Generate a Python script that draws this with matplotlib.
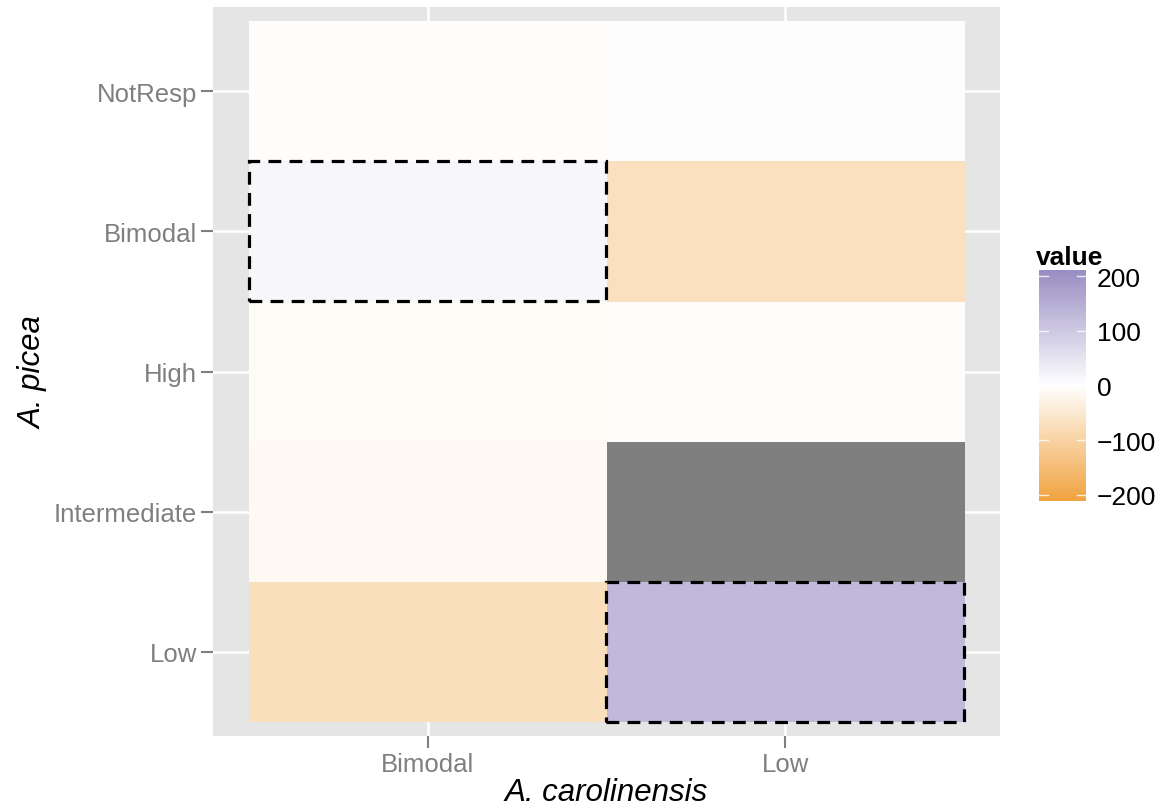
import numpy as np
import matplotlib
matplotlib.use('Agg')
import matplotlib.pyplot as plt
from matplotlib.colors import LinearSegmentedColormap, Normalize
from matplotlib.patches import Rectangle

plt.rcParams['font.family'] = ['Liberation Sans', 'DejaVu Sans']

# categories (x = A. carolinensis, y = A. picea, bottom to top)
carolinensis = ['Bimodal', 'Low']
picea = ['Low', 'Intermediate', 'High', 'Bimodal', 'NotResp']

# cell values, one list per A. picea level (columns follow carolinensis)
val_low = [-72, 130]
val_intermediate = [-13, np.nan]
val_high = [-10, -2]
val_bimodal = [15, -70]
val_notresp = [-3, 3]

# cells to outline (carolinensis, picea)
highlight = [('Bimodal', 'Bimodal'), ('Low', 'Low')]

limit = 211
cbar_ticks = [-200, -100, 0, 100, 200]

grid = np.array([val_low, val_intermediate, val_high, val_bimodal, val_notresp], dtype=float)

cmap = LinearSegmentedColormap.from_list('puor3', ['#f1a340', '#ffffff', '#998ec3'])
cmap.set_bad('#7f7f7f')
norm = Normalize(-limit, limit)

W, H = 1162, 812
fig = plt.figure(figsize=(W / 100, H / 100), dpi=100)
ax = fig.add_axes([213 / W, 1 - 737 / H, 787 / W, 729 / H])
ax.set_facecolor('#e5e5e5')

nx, ny = len(carolinensis), len(picea)
ax.imshow(np.ma.masked_invalid(grid), cmap=cmap, norm=norm, origin='lower',
          extent=(0.5, nx + 0.5, 0.5, ny + 0.5), aspect='auto',
          interpolation='nearest', zorder=2)

ax.set_xlim(0.4, nx + 0.6)
ax.set_ylim(0.4, ny + 0.6)
ax.set_xticks(range(1, nx + 1))
ax.set_xticklabels(carolinensis)
ax.set_yticks(range(1, ny + 1))
ax.set_yticklabels(picea)
ax.grid(True, color='white', linewidth=1.8, zorder=1)
ax.set_axisbelow(True)
for s in ax.spines.values():
    s.set_visible(False)
ax.tick_params(colors='#7f7f7f', labelcolor='#7f7f7f', labelsize=18.5, length=8.5,
               width=1.5, pad=3)

for cx, cy in highlight:
    i = carolinensis.index(cx) + 1
    j = picea.index(cy) + 1
    ax.add_patch(Rectangle((i - 0.5, j - 0.5), 1, 1, fill=False, edgecolor='black',
                           linewidth=2.3, linestyle=(0, (4, 2.6)), zorder=3,
                           clip_on=False))

ax.set_xlabel('A. carolinensis', fontsize=22.5, style='italic', labelpad=1)
ax.set_ylabel('A. picea', fontsize=22.5, style='italic', labelpad=4)

# colour bar legend
cax = fig.add_axes([1039 / W, 1 - 502 / H, 47 / W, 231 / H])
grad = np.linspace(-limit, limit, 300).reshape(-1, 1)
cax.imshow(grad, cmap=cmap, norm=norm, origin='lower', aspect='auto',
           extent=(0, 1, -limit, limit))
for t in cbar_ticks:
    cax.plot([0, 0.2], [t, t], color='white', linewidth=1, alpha=0.8)
    cax.plot([0.8, 1], [t, t], color='white', linewidth=1, alpha=0.8)
cax.set_xlim(0, 1)
cax.set_ylim(-limit, limit)
cax.set_xticks([])
cax.yaxis.tick_right()
cax.set_yticks(cbar_ticks)
cax.set_yticklabels([str(t).replace('-', '\u2212') for t in cbar_ticks])
cax.tick_params(axis='y', length=0, labelsize=19, pad=8)
for s in cax.spines.values():
    s.set_visible(False)
fig.text(1036 / W, 1 - 265 / H, 'value', fontsize=19, fontweight='bold',
         ha='left', va='baseline')

fig.savefig('out.png', dpi=100)
